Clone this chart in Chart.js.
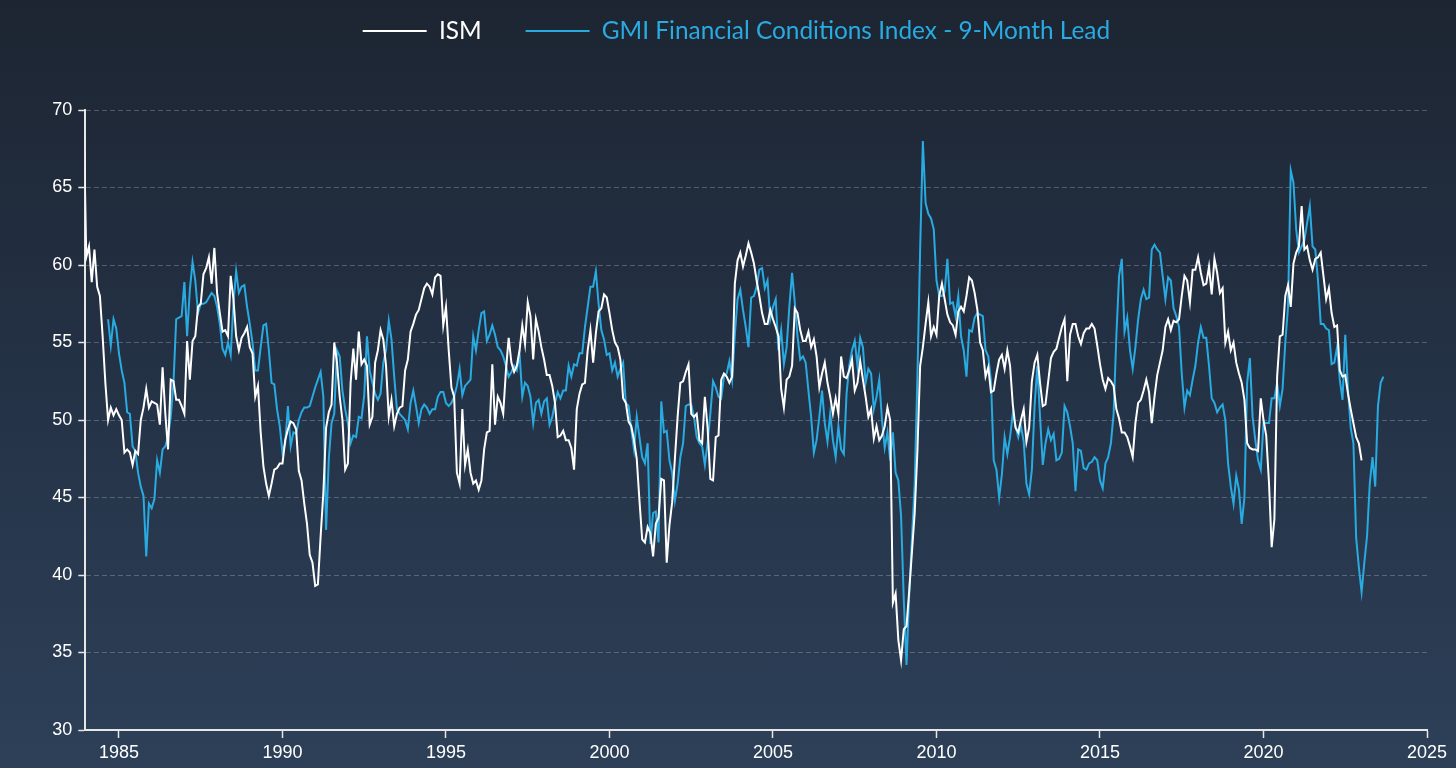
<!DOCTYPE html>
<html>
<head>
<meta charset="utf-8">
<script src="https://cdn.jsdelivr.net/npm/chart.js@4.4.1/dist/chart.umd.min.js"></script>
<style>
  html, body { margin: 0; padding: 0; }
  body { width: 1456px; height: 768px; overflow: hidden;
         background: linear-gradient(180deg, #1d2532 0%, #243246 50%, #2d4058 100%); }
  #wrap { position: relative; width: 1456px; height: 768px; }
</style>
</head>
<body>
<div id="wrap"><canvas id="c" width="1456" height="768"></canvas></div>
<script>
// ---------------- DATA (monthly) ----------------
const seriesNames = ['ISM', 'GMI Financial Conditions Index - 9-Month Lead'];

// ISM: first value is Dec 1983
const ismStart = { year: 1983, month: 12 };
const ism1980s = [
  69.9,
  60.5, 61.2, 58.9, 61.0, 58.6, 58.0, 55.4, 52.4, 50.0, 50.8, 50.3, 50.7,
  50.3, 50.0, 47.9, 48.1, 47.9, 47.1, 48.0, 47.8, 50.0, 50.8, 52.0, 50.8,
  51.2, 51.1, 51.0, 49.7, 53.4, 50.4, 48.1, 52.6, 52.5, 51.3, 51.3, 50.9,
  50.4, 55.1, 52.6, 55.1, 55.4, 57.3, 57.5, 59.4, 59.8, 60.5, 58.8, 61.1,
  58.2, 56.9, 55.7, 55.8, 55.4, 59.3, 57.8, 55.4, 54.5, 55.3, 55.6, 56.0,
  54.7, 54.3, 51.5, 52.2, 49.2, 47.0, 45.9, 45.1, 45.9, 46.8, 46.9, 47.2
];
const ism1990s = [
  47.2, 48.7, 49.4, 49.9, 49.8, 49.4, 46.7, 46.1, 44.6, 43.3, 41.3, 40.8,
  39.3, 39.4, 42.5, 45.3, 49.5, 50.5, 51.0, 55.0, 53.7, 51.5, 50.0, 46.8,
  47.2, 52.4, 54.6, 52.6, 55.7, 53.6, 53.9, 53.5, 49.7, 50.2, 53.7, 54.5,
  55.8, 55.2, 53.5, 50.2, 51.3, 49.6, 50.4, 50.8, 50.9, 53.2, 53.9, 55.7,
  56.2, 56.8, 57.1, 57.8, 58.5, 58.8, 58.6, 58.1, 59.2, 59.4, 59.3, 56.1,
  57.3, 54.5, 52.1, 51.5, 46.6, 45.9, 50.7, 47.1, 48.1, 46.6, 45.9, 46.1,
  45.5, 46.1, 48.1, 49.2, 49.3, 53.6, 49.7, 51.5, 51.1, 50.4, 53.2, 55.3,
  53.7, 53.1, 53.5, 54.5, 56.1, 54.9, 57.6, 56.7, 53.9, 56.5, 55.7, 54.7,
  53.9, 52.9, 52.9, 52.2, 51.1, 48.9, 49.0, 49.3, 48.7, 48.7, 48.2, 46.8,
  50.7, 51.7, 52.3, 52.4, 54.5, 55.8, 53.7, 55.6, 57.0, 57.2, 58.1, 57.9
];
const ism2000s = [
  56.9, 55.8, 55.0, 54.7, 53.9, 51.4, 51.1, 49.9, 49.6, 48.7, 47.5, 44.8,
  42.3, 42.1, 43.1, 42.7, 41.2, 43.3, 43.7, 46.2, 46.1, 40.8, 43.2, 44.7,
  47.5, 50.2, 52.4, 52.5, 53.1, 53.6, 50.4, 50.2, 50.4, 48.7, 48.5, 51.5,
  49.5, 46.2, 46.1, 48.9, 49.0, 52.6, 53.0, 52.8, 52.4, 52.8, 58.8, 60.3,
  60.8, 59.9, 60.6, 61.4, 60.8, 60.1, 59.0, 58.0, 56.9, 56.2, 56.2, 57.1,
  56.5, 56.0, 55.4, 52.0, 50.8, 52.6, 52.8, 53.5, 57.2, 56.9, 55.8, 55.1,
  55.1, 55.7, 54.7, 55.2, 54.1, 52.1, 53.0, 53.7, 52.4, 51.5, 50.4, 51.4,
  50.4, 54.1, 52.8, 52.7, 53.2, 53.9, 51.9, 52.4, 53.8, 52.6, 51.5, 50.2,
  50.7, 48.8, 49.6, 48.7, 49.0, 49.6, 50.8, 50.0, 38.2, 38.8, 35.8, 34.5,
  36.5, 36.7, 39.0, 41.5, 44.0, 48.0, 53.5, 54.7, 56.2, 57.6, 55.4, 56.0
];
const ism2010s = [
  55.5, 58.0, 58.8, 57.8, 56.8, 56.3, 56.1, 55.5, 57.0, 57.3, 57.0, 58.0,
  59.2, 59.0, 58.2, 57.1, 55.0, 54.5, 52.8, 53.4, 51.8, 51.9, 53.0, 53.9,
  54.2, 53.3, 54.5, 53.5, 51.0, 49.5, 49.2, 50.0, 50.7, 48.6, 49.5, 52.5,
  53.7, 54.2, 52.4, 50.9, 51.0, 52.5, 54.0, 54.4, 54.6, 55.3, 56.0, 56.5,
  52.5, 55.5, 56.2, 56.2, 55.4, 54.9, 55.6, 55.9, 55.9, 56.2, 55.9, 54.8,
  53.6, 52.6, 52.0, 52.7, 52.5, 52.2, 50.7, 50.1, 49.2, 49.2, 48.9, 48.3,
  47.6, 49.8, 51.1, 51.3, 51.9, 52.6, 51.8, 49.8, 51.5, 52.9, 53.7, 54.5,
  56.0, 56.5, 55.8, 56.4, 56.3, 56.5, 58.0, 59.3, 59.0, 57.6, 59.7, 59.7,
  60.5, 59.5, 58.7, 58.8, 59.9, 58.1, 60.4, 59.5, 58.2, 58.5, 55.0, 55.7,
  54.5, 55.0, 53.7, 53.0, 52.4, 51.3, 48.5, 48.2, 48.1, 48.1, 48.0, 51.4
];
const ism2020s = [
  50.0, 49.0, 46.0, 41.8, 43.6, 52.8, 55.4, 55.5, 58.0, 58.7, 57.3, 60.1,
  60.8, 61.2, 63.8, 61.0, 61.2, 60.3, 59.7, 60.4, 60.5, 60.8, 59.3, 57.8,
  58.5, 56.9, 56.0, 56.1, 53.2, 52.8, 52.9, 51.7, 50.7, 49.8, 48.9, 48.5,
  47.4
];

// GMI FCI (9-month lead): first value is Sep 1984
const gmiStart = { year: 1984, month: 9 };
const gmi1980s = [
  56.5, 54.8, 56.5, 55.9,
  54.3, 53.2, 52.4, 50.5, 50.4, 48.3, 48.0, 46.6, 45.7, 45.1, 41.2, 44.6,
  44.3, 44.9, 47.4, 46.6, 48.1, 48.3, 48.9, 50.2, 52.4, 56.5, 56.6, 56.7,
  58.9, 55.4, 58.4, 60.2, 59.0, 56.9, 57.5, 57.5, 57.6, 57.9, 58.2, 58.0,
  57.3, 56.2, 54.6, 54.2, 55.0, 54.2, 57.5, 59.6, 58.2, 58.6, 58.7, 57.3,
  56.2, 55.0, 53.2, 53.2, 54.7, 56.1, 56.2, 54.5, 52.4, 52.3, 50.7, 49.6
];
const gmi1990s = [
  47.9, 48.5, 50.9, 48.3, 49.2, 49.1, 50.0, 50.5, 50.8, 50.8, 50.9, 51.5,
  52.1, 52.6, 53.1, 51.5, 42.9, 47.5, 49.8, 50.4, 54.5, 54.1, 51.9, 50.7,
  49.8, 48.5, 49.0, 48.9, 50.2, 50.1, 51.6, 55.4, 53.2, 52.4, 51.7, 51.3,
  51.7, 53.7, 54.5, 56.4, 55.2, 52.8, 50.7, 50.4, 50.2, 50.0, 49.4, 51.1,
  51.9, 50.9, 49.8, 50.7, 51.0, 50.8, 50.4, 50.7, 50.7, 51.5, 51.8, 51.8,
  51.1, 50.9, 51.1, 51.5, 52.2, 53.3, 51.6, 52.2, 52.4, 52.6, 55.4, 54.5,
  55.8, 56.9, 57.0, 55.1, 55.5, 56.1, 55.5, 54.7, 54.5, 54.1, 53.5, 52.8,
  53.1, 53.5, 53.2, 54.3, 51.5, 52.4, 52.2, 51.5, 49.8, 51.1, 51.3, 50.4,
  51.2, 51.4, 49.7, 50.2, 51.1, 51.8, 51.4, 51.9, 51.9, 53.5, 52.8, 53.6,
  53.5, 54.3, 54.3, 56.0, 57.3, 58.6, 58.6, 59.6, 57.5, 55.8, 55.2, 54.2
];
const gmi2000s = [
  54.3, 53.2, 53.7, 52.8, 53.3, 53.7, 51.1, 50.9, 49.4, 48.1, 50.2, 48.9,
  47.6, 47.2, 48.5, 42.0, 44.0, 44.1, 42.1, 51.2, 49.2, 49.3, 47.4, 46.6,
  44.8, 45.9, 47.6, 48.5, 50.9, 51.0, 51.0, 50.2, 48.9, 48.5, 48.3, 47.1,
  48.5, 50.4, 52.5, 52.1, 51.5, 51.4, 52.8, 53.0, 53.8, 52.6, 55.5, 57.8,
  58.4, 57.1, 56.0, 54.7, 57.9, 58.0, 58.6, 59.7, 59.8, 58.5, 59.0, 56.5,
  57.3, 57.8, 54.5, 55.8, 53.6, 54.7, 57.3, 59.5, 57.6, 55.4, 53.9, 54.1,
  53.7, 51.9, 50.2, 47.9, 48.7, 50.2, 51.9, 49.8, 48.6, 50.4, 48.7, 47.6,
  49.6, 48.1, 47.8, 51.7, 53.5, 54.5, 55.1, 53.5, 55.3, 54.7, 52.4, 53.3,
  53.0, 50.7, 51.5, 52.6, 50.0, 48.2, 49.2, 47.4, 49.2, 46.6, 46.1, 43.8,
  38.4, 34.2, 38.8, 42.4, 45.9, 52.8, 61.0, 68.0, 64.0, 63.3, 63.0, 62.3
];
const gmi2010s = [
  59.0, 58.0, 58.0, 58.3, 60.4, 57.5, 57.6, 56.7, 58.0, 55.4, 54.5, 52.8,
  55.8, 55.7, 56.6, 56.9, 56.8, 56.7, 54.5, 54.1, 52.5, 47.4, 46.8, 45.0,
  46.5, 48.9, 47.8, 48.9, 50.4, 49.6, 48.9, 49.6, 48.6, 45.9, 45.2, 46.8,
  50.9, 53.5, 50.2, 47.1, 48.5, 49.4, 48.7, 49.1, 47.4, 47.5, 47.9, 50.9,
  50.5, 49.6, 48.5, 45.4, 48.1, 48.0, 46.9, 46.8, 47.2, 47.3, 47.6, 47.4,
  46.1, 45.6, 47.2, 47.6, 48.5, 50.4, 55.4, 59.3, 60.4, 55.7, 56.6, 54.5,
  53.3, 54.7, 56.5, 57.8, 58.4, 57.8, 57.9, 61.0, 61.3, 61.0, 60.8, 59.3,
  57.8, 59.2, 59.0, 57.2, 56.7, 56.0, 53.0, 50.8, 51.9, 51.6, 52.6, 53.5,
  55.0, 56.0, 55.3, 55.3, 53.5, 51.4, 51.1, 50.5, 50.8, 51.0, 50.0, 47.2,
  45.7, 44.6, 46.4, 45.5, 43.3, 45.0, 52.4, 54.0, 50.2, 48.7, 47.4, 46.8
];
const gmi2020s = [
  49.8, 49.8, 49.8, 51.4, 51.4, 52.4, 50.9, 52.0, 55.0, 57.3, 66.1, 65.3,
  62.3, 60.8, 61.2, 61.6, 62.7, 63.8, 61.2, 61.0, 59.0, 56.2, 56.2, 55.9,
  55.8, 53.6, 53.7, 54.7, 52.6, 51.3, 55.5, 52.0, 49.5, 48.5, 42.4, 40.5,
  38.9, 40.8, 42.5, 45.9, 47.6, 45.7, 50.9, 52.4, 52.8
];

const yTickValues = [30, 35, 40, 45, 50, 55, 60, 65, 70];
const xTickValues = [1985, 1990, 1995, 2000, 2005, 2010, 2015, 2020, 2025];

// ---------------- BUILD ----------------
const ismValues = [].concat(ism1980s, ism1990s, ism2000s, ism2010s, ism2020s);
const gmiValues = [].concat(gmi1980s, gmi1990s, gmi2000s, gmi2010s, gmi2020s);
function toPoints(start, values) {
  return values.map((v, i) => ({ x: start.year + (start.month - 1 + i) / 12, y: v }));
}

const COLORS = { ism: '#ffffff', gmi: '#29abe2', text: '#ffffff', axis: '#e6e6e6', grid: 'rgba(190,198,210,0.32)' };
const LEGEND_FAMILY = 'Lato, "Open Sans", sans-serif';
const AXIS_FAMILY = '"Liberation Sans", Arial, sans-serif';

// fit the legend font so the long label is as wide as in the reference (~510px)
const mctx = document.createElement('canvas').getContext('2d');
mctx.font = '100px ' + LEGEND_FAMILY;
const legendSize = Math.round(100 * 508 / mctx.measureText(seriesNames[1]).width * 10) / 10;

const target = { left: 85.3, right: 1427, top: 110, bottom: 730, legendMid: 31, legendCenterX: 736.4 };
const state = { padTop: -20, padLeft: 46, padRight: 29, gapH: 20, yW: 40 };

const config = {
  type: 'line',
  data: {
    datasets: [
      { label: seriesNames[0], data: toPoints(ismStart, ismValues), borderColor: COLORS.ism,
        backgroundColor: COLORS.ism, borderWidth: 2, pointRadius: 0, tension: 0, xAxisID: 'x', yAxisID: 'y' },
      { label: seriesNames[1], data: toPoints(gmiStart, gmiValues), borderColor: COLORS.gmi,
        backgroundColor: COLORS.gmi, borderWidth: 2, pointRadius: 0, tension: 0, xAxisID: 'x', yAxisID: 'y' }
    ]
  },
  options: {
    responsive: false,
    animation: false,
    devicePixelRatio: 1,
    events: [],
    layout: { padding: { top: state.padTop, left: state.padLeft, right: state.padRight, bottom: 0 } },
    plugins: {
      tooltip: { enabled: false },
      legend: {
        display: true,
        position: 'top',
        align: 'center',
        labels: {
          usePointStyle: true,
          pointStyle: 'line',
          pointStyleWidth: 64,
          padding: 44,
          font: { family: LEGEND_FAMILY, size: legendSize },
          generateLabels: (chart) => chart.data.datasets.map((ds, i) => ({
            text: ds.label, fillStyle: ds.borderColor, strokeStyle: ds.borderColor,
            fontColor: ds.borderColor, lineWidth: 2, pointStyle: 'line', hidden: false, datasetIndex: i
          }))
        }
      }
    },
    scales: {
      x: {
        type: 'linear',
        position: 'bottom',
        min: 1983.97,
        max: 2025,
        afterBuildTicks: (s) => { s.ticks = xTickValues.map(v => ({ value: v })); },
        afterFit: (s) => { s.height = 768 - target.bottom; },
        ticks: { color: COLORS.text, font: { family: AXIS_FAMILY, size: 18 }, padding: 4,
                 maxRotation: 0, autoSkip: false, callback: (v) => String(v) },
        grid: { display: true, drawOnChartArea: false, drawTicks: true, tickLength: 8,
                tickColor: COLORS.axis, tickWidth: 1.5, color: COLORS.axis },
        border: { display: true, color: COLORS.axis, width: 2 }
      },
      y: {
        type: 'linear',
        position: 'left',
        min: 30,
        max: 70,
        afterBuildTicks: (s) => { s.ticks = yTickValues.map(v => ({ value: v })); },
        afterFit: (s) => { s.width = state.yW; },
        ticks: { color: COLORS.text, font: { family: AXIS_FAMILY, size: 18 }, padding: 6,
                 callback: (v) => String(v) },
        grid: { display: true, drawOnChartArea: true, drawTicks: true, tickLength: 7,
                color: COLORS.grid, lineWidth: 1, tickColor: COLORS.axis, tickWidth: 1.5,
                tickBorderDash: [] },
        border: { display: true, color: COLORS.axis, width: 2, dash: [5, 3] }
      },
      gap: {
        type: 'linear',
        position: 'top',
        display: true,
        afterFit: (s) => { s.height = state.gapH; },
        ticks: { display: false },
        grid: { display: false, drawTicks: false },
        border: { display: false }
      }
    }
  }
};

const chart = new Chart(document.getElementById('c'), config);

// pin the plot area / legend to the reference geometry
function adjust() {
  const ca = chart.chartArea;
  const hb = chart.legend.legendHitBoxes;
  const legMid = hb[0].top + hb[0].height / 2;
  const legL = hb[0].left, legR = hb[1].left + hb[1].width;
  state.padTop += target.legendMid - legMid;
  state.padLeft += target.legendCenterX - (legL + legR) / 2;
  state.padRight += target.right - ca.right;
  state.yW += target.left - ca.left - (target.legendCenterX - (legL + legR) / 2);
  const p = chart.options.layout.padding;
  p.top = state.padTop; p.left = state.padLeft; p.right = state.padRight;
  chart.update('none');
  state.gapH += target.top - chart.chartArea.top;
  chart.update('none');
}
adjust();
adjust();
adjust();
</script>
</body>
</html>
